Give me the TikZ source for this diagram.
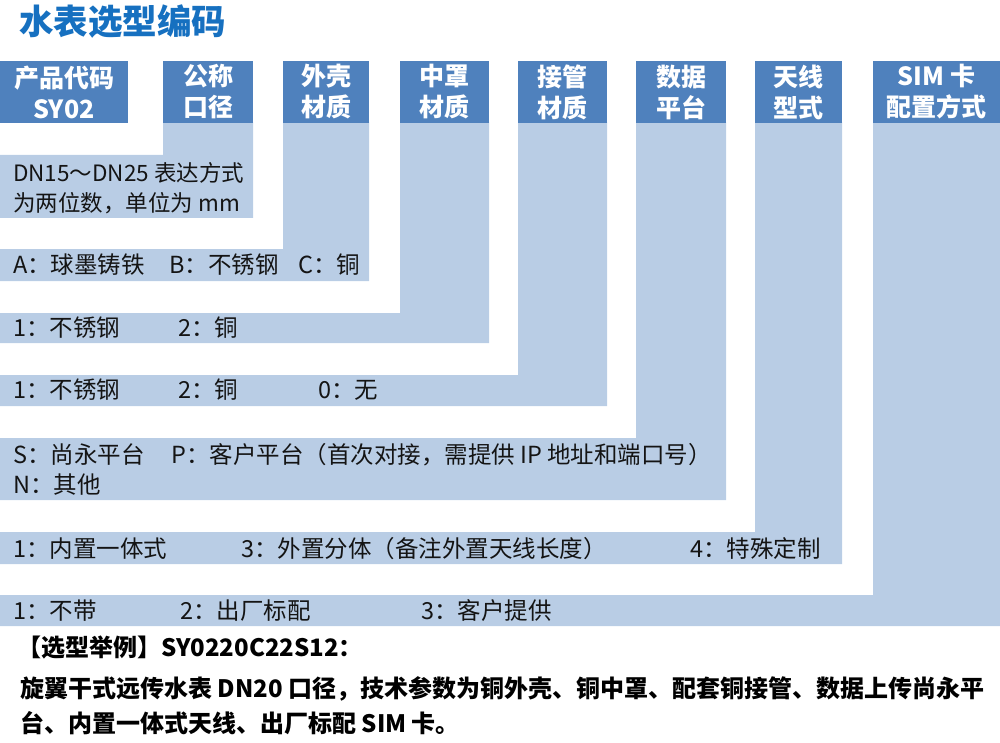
\documentclass[tikz,border=0pt]{standalone}
\usepackage{fontspec}
\setmainfont{Noto Sans CJK SC}
\definecolor{hdrblue}{RGB}{79,129,189}
\definecolor{lightblue}{RGB}{185,205,229}
\definecolor{titleblue}{RGB}{22,112,192}
\definecolor{txt}{RGB}{20,20,20}
\begin{document}
\begin{tikzpicture}[x=1pt,y=-1pt,
  hdr/.style={fill=hdrblue,text=white,inner sep=0pt,align=center,
    font=\fontsize{25}{31}\selectfont\bfseries},
  band/.style={fill=lightblue,draw=none},
  item/.style={anchor=west,inner sep=0pt,text=txt,text height=20.7pt,text depth=2.8pt,
    font=\fontsize{23.5}{28}\selectfont},
  itemsm/.style={item,font=\fontsize{22.5}{27}\selectfont},
  note/.style={anchor=west,inner sep=0pt,text=black,text height=21.1pt,text depth=2.9pt,
    font=\fontsize{24}{28}\selectfont\bfseries}]
\useasboundingbox (0,0) rectangle (1000,743);
% title
\node[anchor=west,inner sep=0pt,text=titleblue,text height=30.4pt,text depth=4.1pt,
  font=\fontsize{34.5}{38}\selectfont\bfseries] (title) at (19,21.5) {水表选型编码};
% light blue L-shaped bands
\fill[band] (163,122) -- (253,122) -- (253,218) -- (0,218) -- (0,155) -- (163,155) -- cycle;
\fill[band] (283,122) -- (369,122) -- (369,281) -- (0,281) -- (0,249) -- (283,249) -- cycle;
\fill[band] (400,122) -- (489,122) -- (489,343) -- (0,343) -- (0,313) -- (400,313) -- cycle;
\fill[band] (518,122) -- (607,122) -- (607,406) -- (0,406) -- (0,375) -- (518,375) -- cycle;
\fill[band] (636,122) -- (726,122) -- (726,500) -- (0,500) -- (0,438) -- (636,438) -- cycle;
\fill[band] (755,122) -- (842,122) -- (842,564) -- (0,564) -- (0,532) -- (755,532) -- cycle;
\fill[band] (873,122) -- (1000,122) -- (1000,626) -- (0,626) -- (0,595) -- (873,595) -- cycle;
% header boxes
\node[hdr,minimum width=128pt,minimum height=62pt] (h1) at (64,92) {产品代码\\SY02};
\node[hdr,minimum width=90pt,minimum height=62pt] (h2) at (208,92) {公称\\口径};
\node[hdr,minimum width=86pt,minimum height=62pt] (h3) at (326,92) {外壳\\材质};
\node[hdr,minimum width=89pt,minimum height=62pt] (h4) at (444.5,92) {中罩\\材质};
\node[hdr,minimum width=89pt,minimum height=62pt] (h5) at (562.5,92) {接管\\材质};
\node[hdr,minimum width=90pt,minimum height=62pt] (h6) at (681,92) {数据\\平台};
\node[hdr,minimum width=87pt,minimum height=62pt] (h7) at (798.5,92) {天线\\型式};
\node[hdr,minimum width=127pt,minimum height=62pt] (h8) at (936.5,92) {SIM 卡\\配置方式};
% row 1
\node[itemsm] (r1a) at (13,173) {DN15～DN25 表达方式};
\node[itemsm] (r1b) at (13,203) {为两位数，单位为 mm};
% row 2
\node[item] (r2a) at (13,265) {A：球墨铸铁};
\node[item] (r2b) at (169,265) {B：不锈钢};
\node[item] (r2c) at (298,265) {C：铜};
% row 3
\node[item] (r3a) at (13,328) {1：不锈钢};
\node[item] (r3b) at (178,328) {2：铜};
% row 4
\node[item] (r4a) at (13,390) {1：不锈钢};
\node[item] (r4b) at (178,390) {2：铜};
\node[item] (r4c) at (318,390) {0：无};
% row 5
\node[item] (r5a) at (13,455) {S：尚永平台};
\node[item] (r5b) at (171,455) {P：客户平台（首次对接，需提供 IP 地址和端口号）};
\node[item] (r5c) at (13,485) {N：其他};
% row 6
\node[item] (r6a) at (13,549) {1：内置一体式};
\node[item] (r6b) at (241,549) {3：外置分体（备注外置天线长度）};
\node[item] (r6c) at (690,549) {4：特殊定制};
% row 7
\node[item] (r7a) at (13,611) {1：不带};
\node[item] (r7b) at (180,611) {2：出厂标配};
\node[item] (r7c) at (421,611) {3：客户提供};
% example
\node[note] (ex1) at (17,647) {【选型举例】SY0220C22S12：};
\node[note] (ex2) at (20,688) {旋翼干式远传水表 DN20 口径，技术参数为铜外壳、铜中罩、配套铜接管、数据上传尚永平};
\node[note] (ex3) at (20,723) {台、内置一体式天线、出厂标配 SIM 卡。};
\end{tikzpicture}
\end{document}
